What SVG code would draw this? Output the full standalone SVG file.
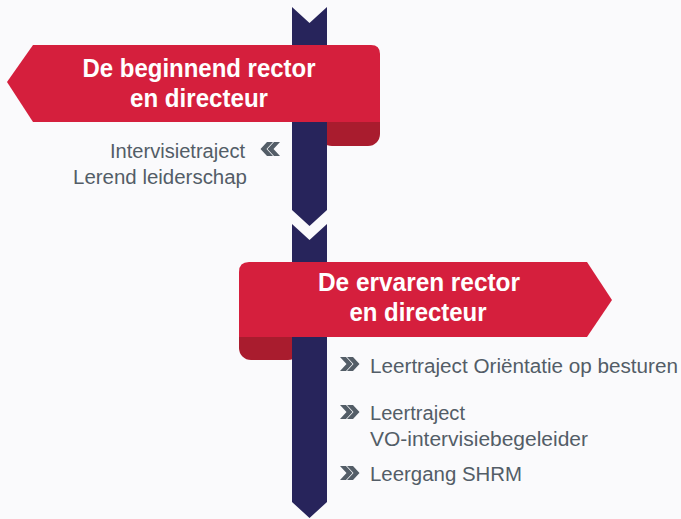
<svg xmlns="http://www.w3.org/2000/svg" width="681" height="519" viewBox="0 0 681 519">
  <style>
    .red{fill:#d51f3d}
    .curl{fill:#a91c2e}
    .post{fill:#27245b}
    .title{font-family:"Liberation Sans",Arial,sans-serif;font-weight:bold;font-size:26px;fill:#ffffff;text-anchor:middle}
    .item{font-family:"Liberation Sans",Arial,sans-serif;font-size:20px;fill:#535d67}
    .chev{fill:#535d67}
  </style>
  <defs>
    <path id="chevR" d="M0,0 L6,0 L12.5,7 L6,14 L0,14 L6.5,7 Z M7,0 L13,0 L19.5,7 L13,14 L7,14 L13.5,7 Z"/>
  </defs>
  <rect width="681" height="519" fill="#fafafc"/>

  <g id="curls">
    <rect class="curl" x="320" y="110" width="60" height="36" rx="12"/>
    <rect class="curl" x="239" y="325" width="61" height="35" rx="12"/>
  </g>

  <g id="post">
    <path class="post" d="M292,7 L309.5,23 L327,7 L327,210 L309.5,226 L292,210 Z"/>
    <path class="post" d="M292,224 L309.5,240 L327,224 L327,502 L309.5,518 L292,502 Z"/>
  </g>

  <g id="banner1">
    <path class="red" d="M33,45 L371,45 Q380,45 380,54 L380,122 L33,122 L7,82 Z"/>
    <text class="title" x="199" y="77" textLength="233" lengthAdjust="spacingAndGlyphs">De beginnend rector</text>
    <text class="title" x="199" y="107" textLength="138" lengthAdjust="spacingAndGlyphs">en directeur</text>
  </g>

  <g id="items1">
    <text class="item" x="110" y="158" textLength="135" lengthAdjust="spacingAndGlyphs">Intervisietraject</text>
    <text class="item" x="73" y="184" textLength="174" lengthAdjust="spacingAndGlyphs">Lerend leiderschap</text>
    <use href="#chevR" class="chev" transform="translate(280,142) scale(-1,1)"/>
  </g>

  <g id="banner2">
    <path class="red" d="M249,262 L587,262 L612,300 L587,337 L239,337 L239,272 Q239,262 249,262 Z"/>
    <text class="title" x="419" y="291" textLength="202" lengthAdjust="spacingAndGlyphs">De ervaren rector</text>
    <text class="title" x="418" y="321" textLength="137" lengthAdjust="spacingAndGlyphs">en directeur</text>
  </g>

  <g id="item-orientatie">
    <use href="#chevR" class="chev" x="340" y="357"/>
    <text class="item" x="370" y="373" textLength="308" lengthAdjust="spacingAndGlyphs">Leertraject Oriëntatie op besturen</text>
  </g>
  <g id="item-vo">
    <use href="#chevR" class="chev" x="340" y="405"/>
    <text class="item" x="370" y="420" textLength="95" lengthAdjust="spacingAndGlyphs">Leertraject</text>
    <text class="item" x="370" y="446" textLength="218" lengthAdjust="spacingAndGlyphs">VO-intervisiebegeleider</text>
  </g>
  <g id="item-shrm">
    <use href="#chevR" class="chev" x="340" y="466"/>
    <text class="item" x="370" y="481" textLength="152" lengthAdjust="spacingAndGlyphs">Leergang SHRM</text>
  </g>
</svg>
